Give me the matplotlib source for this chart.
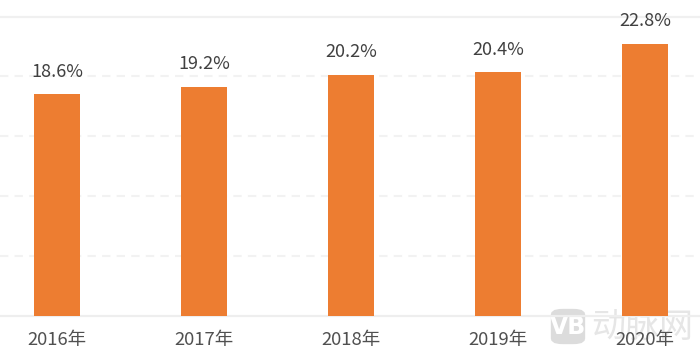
import matplotlib
matplotlib.use("Agg")
import matplotlib.pyplot as plt
from matplotlib.patches import FancyBboxPatch

plt.rcParams['font.family'] = ['Noto Sans CJK SC', 'DejaVu Sans']

years = ['2016年', '2017年', '2018年', '2019年', '2020年']
values = [18.6, 19.2, 20.2, 20.4, 22.8]
value_labels = ['18.6%', '19.2%', '20.2%', '20.4%', '22.8%']
grid_levels = [5.03, 10.06, 15.09, 20.12]
axis_top = 25.08

W, H = 700, 354
fig = plt.figure(figsize=(W / 100, H / 100), dpi=100, facecolor='white')
top_px, base_px = 16.5, 315.5
ax = fig.add_axes([0, 1 - base_px / H, 1, (base_px - top_px) / H], zorder=2)

band = 147.0
ax.set_xlim(-57 / band, (W - 57) / band)
ax.set_ylim(0, axis_top)

for lv in grid_levels:
    ax.axhline(lv, color='#f2f2f2', lw=1.5, ls=(0, (4, 3)), zorder=1)
ax.axhline(axis_top, color='#f0f0f0', lw=1.6, zorder=1, clip_on=False)
ax.axhline(0, color='#eeeeee', lw=1.6, zorder=1, clip_on=False)

xs = list(range(len(years)))
ax.bar(xs, values, width=46 / band, color='#ed7d31', zorder=2)

for x, v, lab in zip(xs, values, value_labels):
    ax.annotate(lab, (x, v), xytext=(0, 9.5), textcoords='offset points',
                ha='center', va='bottom', fontsize=13, color='#404040',
                zorder=3, annotation_clip=False)

ax.set_xticks(xs, years)
ax.set_yticks([])
ax.tick_params(axis='x', length=0, pad=11, labelsize=13.3, labelcolor='#505050')
for s in ax.spines.values():
    s.set_visible(False)
ax.patch.set_alpha(0)

# Watermark
wm = '#dcdcdc'
fig.add_artist(FancyBboxPatch((555 / W, 1 - 340 / H), 26 / W, 27 / H,
                              boxstyle='round,pad=0,rounding_size=0.012',
                              transform=fig.transFigure, fc=wm, ec=wm, lw=6,
                              zorder=0.5, mutation_aspect=H / W * 1.0))
fig.text(568 / W, 1 - 327 / H, 'VB', color='white', fontsize=17, fontweight='bold',
         ha='center', va='center', zorder=1, family=['DejaVu Sans'])
fig.text(642 / W, 1 - 327 / H, '动脉网', color='#e6e6e6', fontsize=24.5, ha='center',
         va='center', zorder=1)

fig.savefig('out.png', dpi=100)
